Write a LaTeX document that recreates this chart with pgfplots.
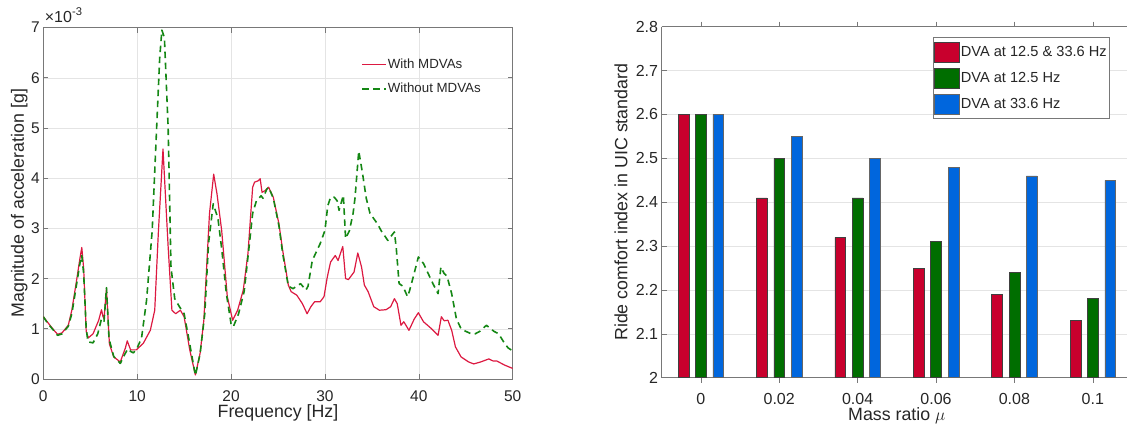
\documentclass[border=0pt]{standalone}
\usepackage{pgfplots}
\pgfplotsset{compat=1.18}
\usepackage{fontspec}
\setmainfont{Liberation Sans}
\definecolor{axgray}{RGB}{120,120,120}
\definecolor{txt}{RGB}{38,38,38}
\definecolor{gridc}{RGB}{228,228,228}
\definecolor{cred}{RGB}{220,25,65}
\definecolor{cgreen}{RGB}{20,135,20}
\definecolor{bred}{RGB}{200,0,45}
\definecolor{bgreen}{RGB}{0,110,0}
\definecolor{bblue}{RGB}{0,102,221}
\begin{document}
\begin{tikzpicture}
\useasboundingbox (0,0) rectangle (1127pt,430pt);
\pgfplotsset{
  every axis/.append style={
    scale only axis,
    axis line style={axgray, line width=0.6pt},
    every tick/.style={axgray, line width=0.6pt},
    major tick length=5pt,
    tick align=inside,
    ticklabel style={txt},
    /pgf/number format/assume math mode=true,
  }
}
% ---------------- left axis ----------------
\begin{axis}[
  name=L,
  at={(43.3pt,51pt)}, anchor=south west,
  width=469.4pt, height=351.4pt,
  xmin=0, xmax=50, ymin=0, ymax=7,
  xtick={0,10,20,30,40,50},
  ytick={0,1,2,3,4,5,6,7},
  grid=major, grid style={gridc, line width=0.5pt},
  tick label style={font=\fontsize{15.5}{15.5}\selectfont},
  xticklabel style={anchor=center, yshift=-17pt},
  xlabel={Frequency [Hz]},
  ylabel={Magnitude of acceleration [g]},
  every axis x label/.style={at={(rel axis cs:0.5,0)}, anchor=center, yshift=-33.8pt, txt, font=\fontsize{17.8}{17.8}\selectfont},
  every axis y label/.style={at={(rel axis cs:0,0.5)}, anchor=center, xshift=-24pt, rotate=90, txt, font=\fontsize{17.8}{17.8}\selectfont},
  legend style={at={(0.677,0.915)}, anchor=north west, draw=none, fill=none,
    font=\fontsize{13.3}{13.3}\selectfont, row sep=11.5pt, inner sep=0pt,
    nodes={inner sep=1pt, text=txt}},
  legend cell align=left,
  legend image code/.code={\draw[#1] (0pt,0pt) -- (24pt,0pt);},
]
\addplot[cred, line width=1.2pt, line join=round] coordinates {
(0,1.24) (0.5,1.12) (1.14,0.97) (1.52,0.89) (2.0,0.92) (2.66,1.07) (3.04,1.37) (3.6,2.03) (3.9,2.4) (4.1,2.62) (4.3,2.2) (4.57,0.95) (4.8,0.82) (5.3,0.9) (5.9,1.17) (6.2,1.38) (6.35,1.25) (6.47,1.2) (6.73,1.8) (7.04,0.7) (7.5,0.44) (8.2,0.34) (8.75,0.62) (8.94,0.76) (9.3,0.58) (9.9,0.58) (10.65,0.71) (11.4,0.97) (11.87,1.37) (12.25,2.9) (12.75,4.58) (13.3,2.63) (13.7,1.37) (14.1,1.3) (14.6,1.37) (15.0,1.24) (15.6,0.58) (16.2,0.08) (16.7,0.51) (17.1,1.17) (17.7,3.29) (18.15,4.08) (18.5,3.69) (19.0,2.96) (19.6,1.64) (20.17,1.17) (20.7,1.37) (21.3,1.77) (21.8,2.5) (22.3,3.82) (22.5,3.92) (22.9,3.95) (23.1,3.99) (23.3,3.72) (23.6,3.75) (24.0,3.82) (24.5,3.62) (25.1,3.09) (25.5,2.56) (26.1,1.87) (26.4,1.74) (27.0,1.67) (27.6,1.5) (28.1,1.3) (28.5,1.44) (28.9,1.54) (29.5,1.54) (29.9,1.64) (30.25,2.03) (30.6,2.33) (31.1,2.46) (31.4,2.36) (31.9,2.64) (32.2,2.0) (32.5,1.98) (33.1,2.13) (33.5,2.51) (33.9,2.23) (34.2,1.87) (34.6,1.74) (35.2,1.44) (35.8,1.37) (36.5,1.38) (37.0,1.44) (37.4,1.6) (37.7,1.5) (38.1,1.07) (38.4,1.14) (38.95,0.97) (39.5,1.19) (39.95,1.32) (40.5,1.14) (41.3,1.01) (42.05,0.87) (42.4,1.24) (42.7,1.16) (43.1,1.17) (43.5,0.97) (43.9,0.64) (44.5,0.44) (45.3,0.34) (45.85,0.3) (46.6,0.34) (47.45,0.4) (47.9,0.36) (48.3,0.36) (49.1,0.28) (50,0.21)
};
\addlegendentry{With MDVAs}
\addplot[cgreen, line width=1.6pt, dash pattern=on 6.5pt off 4.5pt, line join=round] coordinates {
(0,1.24) (0.5,1.1) (1.14,0.96) (1.52,0.87) (2.0,0.9) (2.66,1.05) (3.04,1.3) (3.6,1.95) (3.9,2.3) (4.1,2.46) (4.3,2.1) (4.57,1.0) (4.76,0.74) (5.3,0.72) (5.8,0.9) (6.2,1.2) (6.47,1.15) (6.73,1.82) (7.0,0.8) (7.5,0.45) (8.2,0.31) (8.7,0.5) (9.0,0.6) (9.3,0.55) (9.6,0.52) (10.0,0.62) (10.46,0.81) (11.0,1.57) (11.6,2.96) (12.06,4.95) (12.4,6.4) (12.63,6.95) (12.9,6.8) (13.3,5.0) (13.6,2.23) (14.0,1.6) (14.5,1.44) (15.0,1.3) (15.5,0.8) (16.2,0.07) (16.7,0.5) (17.2,1.3) (17.6,2.7) (18.1,3.49) (18.6,3.2) (19.0,2.6) (19.5,1.7) (20.0,1.1) (20.24,1.04) (20.8,1.3) (21.4,1.75) (21.9,2.6) (22.3,3.3) (22.7,3.55) (23.2,3.65) (23.4,3.6) (23.8,3.78) (24.0,3.82) (24.5,3.6) (25.1,3.05) (25.5,2.5) (26.1,1.85) (26.6,1.8) (27.0,1.85) (27.4,1.9) (27.97,1.77) (28.2,1.85) (28.65,2.36) (29.0,2.5) (29.5,2.7) (30.0,2.96) (30.3,3.45) (30.6,3.62) (31.0,3.62) (31.3,3.55) (31.5,3.36) (31.96,3.66) (32.2,2.8) (32.6,2.95) (33.0,3.3) (33.2,3.6) (33.6,4.54) (34.0,4.1) (34.4,3.6) (34.8,3.3) (35.6,3.09) (36.0,2.95) (36.7,2.76) (37.4,2.93) (37.6,2.6) (37.9,1.9) (38.3,1.85) (38.8,1.64) (39.0,1.75) (39.5,2.1) (39.95,2.43) (40.5,2.3) (41.0,2.1) (41.5,1.9) (42.05,1.7) (42.35,2.23) (42.7,2.1) (43.0,2.05) (43.5,1.7) (44.0,1.2) (44.5,1.0) (45.0,0.95) (45.7,0.89) (46.0,0.9) (46.5,0.95) (47.2,1.07) (48.0,0.95) (48.5,0.9) (49.0,0.75) (49.5,0.62) (50,0.56)
};
\addlegendentry{Without MDVAs}
\end{axis}
\node[anchor=south west, txt, inner sep=0pt, font=\fontsize{16}{16}\selectfont] at (L.north west) [xshift=1.4pt, yshift=5pt] {×10\textsuperscript{-3}};
% ---------------- right axis ----------------
\begin{axis}[
  at={(661.6pt,52.3pt)}, anchor=south west,
  width=470.4pt, height=351pt,
  xmin=-0.5, xmax=5.5, ymin=2, ymax=2.8,
  axis x line*=box, axis y line*=left,
  xtick={0,1,2,3,4,5},
  xticklabels={0,0.02,0.04,0.06,0.08,0.1},
  ytick={2,2.1,2.2,2.3,2.4,2.5,2.6,2.7,2.8},
  yticklabel style={/pgf/number format/fixed},
  ymajorgrids, grid style={gridc, line width=0.5pt},
  tick label style={font=\fontsize{16}{16}\selectfont},
  xticklabel style={anchor=center, yshift=-16.3pt},
  xlabel={Mass ratio $\mu$},
  ylabel={Ride comfort index in UIC standard},
  every axis x label/.style={at={(rel axis cs:0.5,0)}, anchor=center, yshift=-38.5pt, txt, font=\fontsize{17.8}{17.8}\selectfont},
  every axis y label/.style={at={(rel axis cs:0,0.5)}, anchor=center, xshift=-40.6pt, rotate=90, txt, font=\fontsize{17.8}{17.8}\selectfont},
  ybar, bar width=10.8pt,
  legend style={at={(0.5763,0.9698)}, anchor=north west, draw=axgray, fill=white,
    font=\fontsize{14.6}{14.6}\selectfont, row sep=5.5pt, inner xsep=1.5pt, inner ysep=4pt,
    nodes={inner sep=1pt, text=txt}},
  legend cell align=left,
  legend image code/.code={\draw[#1] (0pt,-10pt) rectangle (25pt,10pt);},
]
\addplot[fill=bred, draw=black!75, line width=0.5pt, bar shift=-17.4pt] coordinates {(0,2.6) (1,2.41) (2,2.32) (3,2.25) (4,2.19) (5,2.13)};
\addlegendentry{DVA at 12.5 \& 33.6 Hz}
\addplot[fill=bgreen, draw=black!75, line width=0.5pt, bar shift=0pt] coordinates {(0,2.6) (1,2.5) (2,2.41) (3,2.31) (4,2.24) (5,2.18)};
\addlegendentry{DVA at 12.5 Hz}
\addplot[fill=bblue, draw=black!60, line width=0.5pt, bar shift=17.4pt] coordinates {(0,2.6) (1,2.55) (2,2.5) (3,2.48) (4,2.46) (5,2.45)};
\addlegendentry{DVA at 33.6 Hz}
\end{axis}
\end{tikzpicture}
\end{document}
